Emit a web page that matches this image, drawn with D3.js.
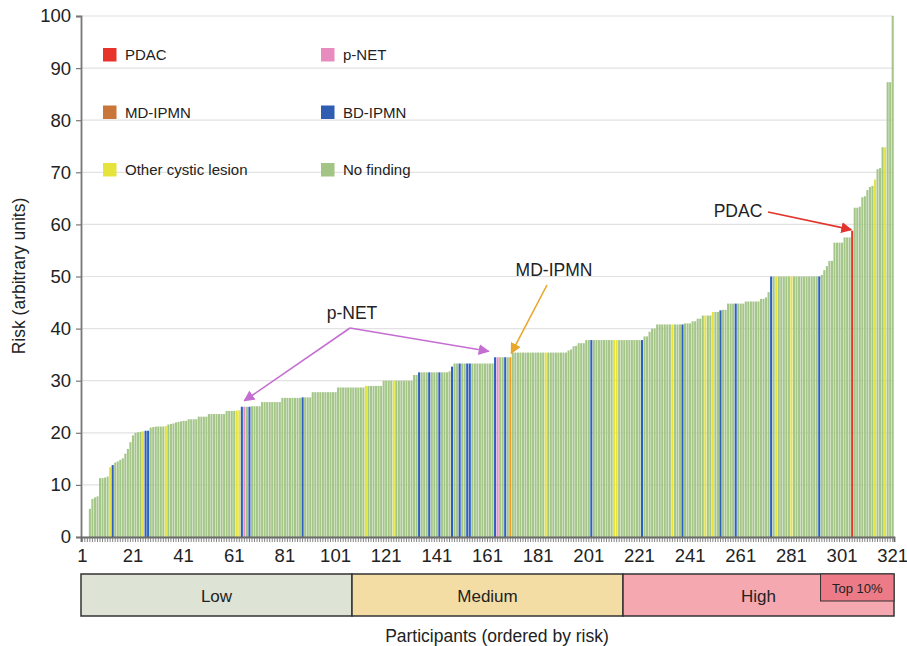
<!DOCTYPE html>
<html>
<head>
<meta charset="utf-8">
<script src="https://cdn.jsdelivr.net/npm/d3@7"></script>
<style>
  html, body { margin: 0; padding: 0; background: #fff; }
  svg { display: block; font-family: "Liberation Sans", Arial, Helvetica, sans-serif; }
</style>
</head>
<body>
<svg id="chart" width="907" height="646"></svg>
<script>
// ---------------- DATA ----------------
const riskValues = [
  0, 0, 0, 5.4, 7.3, 7.6, 7.8, 11.3, 11.3, 11.4,
  11.6, 13.4, 13.8, 14.3, 14.5, 14.8, 15.1, 16.0, 16.9, 18.2,
  19.5, 20.0, 20.1, 20.2, 20.3, 20.4, 20.4, 21.0, 21.1, 21.2,
  21.2, 21.2, 21.2, 21.3, 21.6, 21.7, 21.8, 22.0, 22.1, 22.2,
  22.3, 22.3, 22.6, 22.6, 22.6, 22.6, 23.1, 23.1, 23.1, 23.1,
  23.6, 23.6, 23.6, 23.6, 23.6, 23.6, 23.6, 24.2, 24.2, 24.2,
  24.2, 24.3, 24.3, 25.0, 25.0, 25.0, 25.0, 25.1, 25.1, 25.1,
  25.1, 25.9, 25.9, 25.9, 25.9, 25.9, 25.9, 25.9, 25.9, 26.7,
  26.7, 26.7, 26.7, 26.7, 26.7, 26.7, 26.7, 26.8, 26.8, 26.8,
  26.8, 27.8, 27.8, 27.8, 27.8, 27.8, 27.8, 27.8, 27.8, 27.8,
  27.8, 28.7, 28.7, 28.7, 28.7, 28.7, 28.7, 28.7, 28.7, 28.7,
  28.7, 28.7, 29.0, 29.0, 29.0, 29.0, 29.0, 29.0, 29.0, 30.0,
  30.0, 30.0, 30.0, 30.0, 30.0, 30.0, 30.0, 30.0, 30.0, 30.0,
  30.0, 31.1, 31.1, 31.6, 31.6, 31.6, 31.6, 31.6, 31.6, 31.6,
  31.6, 31.6, 31.6, 31.6, 31.6, 31.8, 32.7, 33.3, 33.3, 33.3,
  33.3, 33.3, 33.3, 33.3, 33.3, 33.3, 33.3, 33.3, 33.3, 33.3,
  33.3, 33.3, 33.3, 34.5, 34.5, 34.5, 34.5, 34.5, 34.5, 34.5,
  35.4, 35.4, 35.4, 35.4, 35.4, 35.4, 35.4, 35.4, 35.4, 35.4,
  35.4, 35.4, 35.4, 35.4, 35.4, 35.4, 35.4, 35.4, 35.4, 35.4,
  35.4, 35.4, 35.8, 36.0, 36.6, 36.7, 37.2, 37.2, 37.2, 37.8,
  37.8, 37.8, 37.8, 37.8, 37.8, 37.8, 37.8, 37.8, 37.8, 37.8,
  37.8, 37.8, 37.8, 37.8, 37.8, 37.8, 37.8, 37.8, 37.8, 37.8,
  37.8, 37.8, 38.5, 38.5, 39.4, 40.0, 40.0, 40.8, 40.8, 40.8,
  40.8, 40.8, 40.8, 40.8, 40.8, 40.8, 40.8, 40.8, 41.0, 41.0,
  41.0, 41.4, 41.4, 41.9, 41.9, 42.5, 42.5, 42.5, 42.5, 43.2,
  43.2, 43.2, 43.5, 43.6, 43.6, 44.8, 44.8, 44.8, 44.8, 44.8,
  44.8, 44.8, 45.2, 45.2, 45.2, 45.2, 45.2, 45.2, 45.7, 45.7,
  46.0, 47.0, 50.0, 50.0, 50.0, 50.0, 50.0, 50.0, 50.0, 50.0,
  50.0, 50.0, 50.0, 50.0, 50.0, 50.0, 50.0, 50.0, 50.0, 50.0,
  50.0, 50.0, 50.3, 51.2, 52.0, 53.0, 53.0, 56.5, 56.5, 56.5,
  56.5, 57.5, 57.5, 57.5, 58.8, 63.2, 63.2, 63.4, 65.2, 65.4,
  66.6, 67.2, 67.4, 68.6, 70.6, 70.8, 74.8, 74.8, 87.3, 87.3, 100
];

// participant ranks (1-based) with a finding; all others = "No finding"
const pdacIdx = [305];
const pnetIdx = [65, 165];
const mdIpmnIdx = [170];
const bdIpmnIdx = [13, 26, 27, 64, 67, 88, 134, 138, 142, 147, 150, 153, 154, 164, 168, 202, 222, 238, 253, 259, 273, 292];
const otherCysticIdx = [12, 25, 34, 62, 63, 113, 124, 184, 211, 212, 234, 247, 250, 275, 281, 314, 318];

const legendItems = ["PDAC", "p-NET", "MD-IPMN", "BD-IPMN", "Other cystic lesion", "No finding"];
const legendColors = ["#e8332b", "#e88cc0", "#c8763a", "#2f5db2", "#e6e43c", "#a2c485"];
const barColors = { "PDAC": "#e8332b", "p-NET": "#ea8fc2", "MD-IPMN": "#f0a020", "BD-IPMN": "#2c5fc0", "Other cystic lesion": "#e6e43c", "No finding": "#a5c689" };

const xTickLabels = [1, 21, 41, 61, 81, 101, 121, 141, 161, 181, 201, 221, 241, 261, 281, 301, 321];
const yTickValues = [0, 10, 20, 30, 40, 50, 60, 70, 80, 90, 100];

const bandNames = ["Low", "Medium", "High"];
const bandEdges = [0, 107, 214, 321];
const bandFills = ["#dde3d5", "#f4dda5", "#f5a8b0"];
const top10Start = 292;

// ---------------- BUILD ----------------
const n = riskValues.length;
const catOf = i => {
  if (pdacIdx.includes(i)) return "PDAC";
  if (pnetIdx.includes(i)) return "p-NET";
  if (mdIpmnIdx.includes(i)) return "MD-IPMN";
  if (bdIpmnIdx.includes(i)) return "BD-IPMN";
  if (otherCysticIdx.includes(i)) return "Other cystic lesion";
  return "No finding";
};
const data = riskValues.map((v, k) => ({ rank: k + 1, value: v, cat: catOf(k + 1) }));

const L = 81, R = 894, T = 16, B = 537;
const svg = d3.select("#chart");

const x = d3.scaleBand().domain(d3.range(1, n + 1)).range([L, R]).paddingInner(0.18).paddingOuter(0.1);
const xe = d3.scaleLinear().domain([0, n]).range([L, R]);
const y = d3.scaleLinear().domain([0, 100]).range([B, T]);

// gridlines
svg.append("g").selectAll("line").data(yTickValues.filter(v => v > 0)).join("line")
  .attr("x1", L).attr("x2", R).attr("y1", d => y(d)).attr("y2", d => y(d))
  .attr("stroke", "#e2e2e2").attr("stroke-width", 1.2);

// bars
svg.append("g").selectAll("rect").data(data).join("rect")
  .attr("x", d => x(d.rank)).attr("width", x.bandwidth())
  .attr("y", d => y(d.value)).attr("height", d => y(0) - y(d.value))
  .attr("fill", d => barColors[d.cat]);

// y axis
const yAxis = svg.append("g").attr("transform", `translate(${L},0)`)
  .call(d3.axisLeft(y).tickValues(yTickValues).tickSize(5).tickPadding(5));
yAxis.select(".domain").attr("stroke", "#777").attr("stroke-width", 1.8);
yAxis.selectAll(".tick line").attr("stroke", "#777").attr("stroke-width", 1.2);
yAxis.selectAll(".tick text").attr("font-size", 18.5).attr("fill", "#222")
  .attr("font-family", "'Liberation Sans', Arial, sans-serif");

// x axis minor ticks
const xMinor = svg.append("g").attr("transform", `translate(0,${B})`)
  .call(d3.axisBottom(x).tickValues(d3.range(1, n + 1)).tickSize(5).tickFormat(""));
xMinor.select(".domain").attr("stroke", "#666").attr("stroke-width", 1.8);
xMinor.selectAll(".tick line").attr("stroke", "#777").attr("stroke-width", 0.9);

// x axis labels
const xLab = svg.append("g").attr("transform", `translate(0,${B})`)
  .call(d3.axisBottom(x).tickValues(xTickLabels).tickSize(0).tickPadding(12));
xLab.select(".domain").remove();
xLab.selectAll(".tick text").attr("font-size", 18.5).attr("fill", "#222")
  .attr("font-family", "'Liberation Sans', Arial, sans-serif");

// axis titles
svg.append("text").attr("transform", "translate(25,276) rotate(-90)")
  .attr("text-anchor", "middle").attr("font-size", 17.5).attr("fill", "#222")
  .text("Risk (arbitrary units)");
svg.append("text").attr("x", 497).attr("y", 642)
  .attr("text-anchor", "middle").attr("font-size", 17.5).attr("fill", "#222")
  .text("Participants (ordered by risk)");

// risk bands
const bandY = 574, bandH = 42;
const bands = bandNames.map((nm, k) => ({ name: nm, x0: xe(bandEdges[k]), x1: xe(bandEdges[k + 1]), fill: bandFills[k] }));
svg.append("g").selectAll("rect").data(bands).join("rect")
  .attr("x", d => d.x0).attr("y", bandY).attr("width", d => d.x1 - d.x0).attr("height", bandH)
  .attr("fill", d => d.fill).attr("stroke", "#333").attr("stroke-width", 1.5);
svg.append("rect").attr("x", xe(top10Start)).attr("y", bandY).attr("width", xe(n) - xe(top10Start)).attr("height", 27)
  .attr("fill", "#ec7b87").attr("stroke", "#333").attr("stroke-width", 1);
svg.append("g").selectAll("text").data(bands).join("text")
  .attr("x", d => (d.x0 + d.x1) / 2).attr("y", bandY + 28)
  .attr("text-anchor", "middle").attr("font-size", 17).attr("fill", "#222").text(d => d.name);
svg.append("text").attr("x", (xe(top10Start) + xe(n)) / 2).attr("y", bandY + 19)
  .attr("text-anchor", "middle").attr("font-size", 13).attr("fill", "#222").text("Top 10%");

// legend
const lg = svg.append("g");
legendItems.forEach((nm, k) => {
  const col = k % 2, row = Math.floor(k / 2);
  const gx = col === 0 ? 103 : 321, gy = 48 + row * 57.5;
  lg.append("rect").attr("x", gx).attr("y", gy).attr("width", 13.5).attr("height", 13.5).attr("fill", legendColors[k]);
  lg.append("text").attr("x", gx + 22).attr("y", gy + 12).attr("font-size", 15).attr("fill", "#222").text(nm);
});

// annotations
const defs = svg.append("defs");
function marker(id, color) {
  defs.append("marker").attr("id", id).attr("viewBox", "0 0 10 10").attr("refX", 9).attr("refY", 5)
    .attr("markerWidth", 11).attr("markerHeight", 11).attr("markerUnits", "userSpaceOnUse").attr("orient", "auto")
    .append("path").attr("d", "M0,0 L10,5 L0,10 z").attr("fill", color);
}
marker("arRed", "#e0342c");
marker("arOrange", "#e9a72c");
marker("arPurple", "#c56ed2");

function arrow(x1, y1, x2, y2, color, mid) {
  svg.append("line").attr("x1", x1).attr("y1", y1).attr("x2", x2).attr("y2", y2)
    .attr("stroke", color).attr("stroke-width", 1.6).attr("marker-end", `url(#${mid})`);
}
const ann = [
  { text: "PDAC", tx: 738, ty: 217 },
  { text: "MD-IPMN", tx: 554, ty: 276 },
  { text: "p-NET", tx: 352, ty: 319 }
];
svg.append("g").selectAll("text").data(ann).join("text")
  .attr("x", d => d.tx).attr("y", d => d.ty).attr("text-anchor", "middle")
  .attr("font-size", 17.5).attr("fill", "#222").text(d => d.text);

arrow(768, 212, x(pdacIdx[0]) + x.bandwidth() / 2 - 1, y(riskValues[pdacIdx[0] - 1]) - 1, "#e0342c", "arRed");
arrow(547, 285, x(mdIpmnIdx[0]) + 2, y(riskValues[mdIpmnIdx[0] - 1]) - 4, "#e9a72c", "arOrange");
arrow(350, 328, x(pnetIdx[0]) + 1, y(riskValues[pnetIdx[0] - 1]) - 6, "#c56ed2", "arPurple");
arrow(350, 328, x(pnetIdx[1]) - 8, y(riskValues[pnetIdx[1] - 1]) - 6, "#c56ed2", "arPurple");
</script>
</body>
</html>
